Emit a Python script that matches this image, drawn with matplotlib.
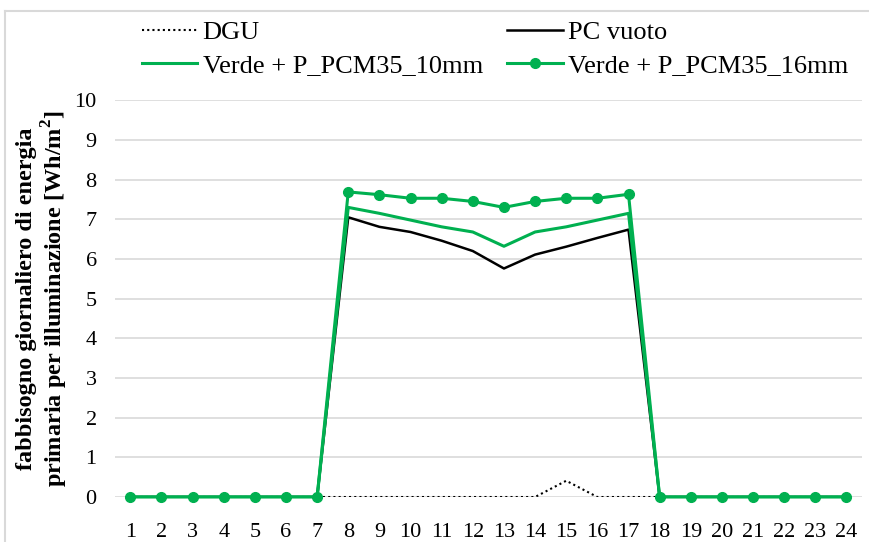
import numpy as np
import matplotlib
matplotlib.use("Agg")
import matplotlib.pyplot as plt
from matplotlib.lines import Line2D

plt.rcParams["font.family"] = ["Liberation Serif", "DejaVu Serif"]
plt.rcParams["mathtext.fontset"] = "custom"
plt.rcParams["mathtext.rm"] = "Liberation Serif"
plt.rcParams["mathtext.bf"] = "Liberation Serif:bold"

hours = list(range(1, 25))
dgu = [0, 0, 0, 0, 0, 0, 0, 0, 0, 0, 0, 0, 0, 0, 0.41, 0, 0, 0, 0, 0, 0, 0, 0, 0]
pc_vuoto = [0, 0, 0, 0, 0, 0, 0, 7.05, 6.81, 6.68, 6.46, 6.20, 5.76, 6.11, 6.31, 6.53, 6.74,
            0, 0, 0, 0, 0, 0, 0]
verde_10 = [0, 0, 0, 0, 0, 0, 0, 7.30, 7.15, 6.98, 6.81, 6.68, 6.32, 6.68, 6.81, 6.98, 7.15,
            0, 0, 0, 0, 0, 0, 0]
verde_16 = [0, 0, 0, 0, 0, 0, 0, 7.69, 7.62, 7.53, 7.53, 7.45, 7.30, 7.45, 7.53, 7.53, 7.63,
            0, 0, 0, 0, 0, 0, 0]

GREEN = "#00B050"

fig = plt.figure(figsize=(8.69, 5.42), dpi=100)
ax = fig.add_axes([0.132, 0.083, 0.86, 0.732])

l_dgu, = ax.plot(hours, dgu, color="black", linestyle=(0, (1, 1.5)), linewidth=1.5)
l_pc, = ax.plot(hours, pc_vuoto, color="black", linewidth=1.8)
l_10, = ax.plot(hours, verde_10, color=GREEN, linewidth=2.2)
l_16, = ax.plot(hours, verde_16, color=GREEN, linewidth=2.2, marker="o", markersize=7,
                clip_on=False)

ax.set_xlim(0.5, 24.5)
ax.set_ylim(0, 10)
ax.set_xticks(hours)
ax.set_yticks(range(0, 11))
ax.tick_params(axis="both", length=0, labelsize=16)
ax.tick_params(axis="x", pad=19)
ax.tick_params(axis="y", pad=13)
ax.grid(axis="y", color="#d9d9d9", linewidth=1.2)
ax.set_axisbelow(True)
for s in ax.spines.values():
    s.set_visible(False)

ax.set_ylabel("fabbisogno giornaliero di energia\nprimaria per illuminazione [Wh/m$^\\mathbf{2}$]",
              fontsize=17.5, fontweight="bold", labelpad=3, linespacing=1.15)

fig.legend([l_dgu, l_10, l_pc, l_16],
           ["DGU", "Verde + P_PCM35_10mm", "PC vuoto", "Verde + P_PCM35_16mm"],
           ncol=2, loc="upper left", bbox_to_anchor=(0.136, 1.006), frameon=False,
           fontsize=19, handlelength=2.1, handletextpad=0.2, columnspacing=0.92,
           labelspacing=0.38)

# chart area border (only top and left edges fall inside the image)
fig.add_artist(Line2D([5 / 869, 1.0], [1 - 11 / 542] * 2, transform=fig.transFigure,
                      color="#d9d9d9", linewidth=1.5))
fig.add_artist(Line2D([5 / 869] * 2, [0.0, 1 - 11 / 542], transform=fig.transFigure,
                      color="#d9d9d9", linewidth=1.5))

fig.savefig("out.png", dpi=100)
